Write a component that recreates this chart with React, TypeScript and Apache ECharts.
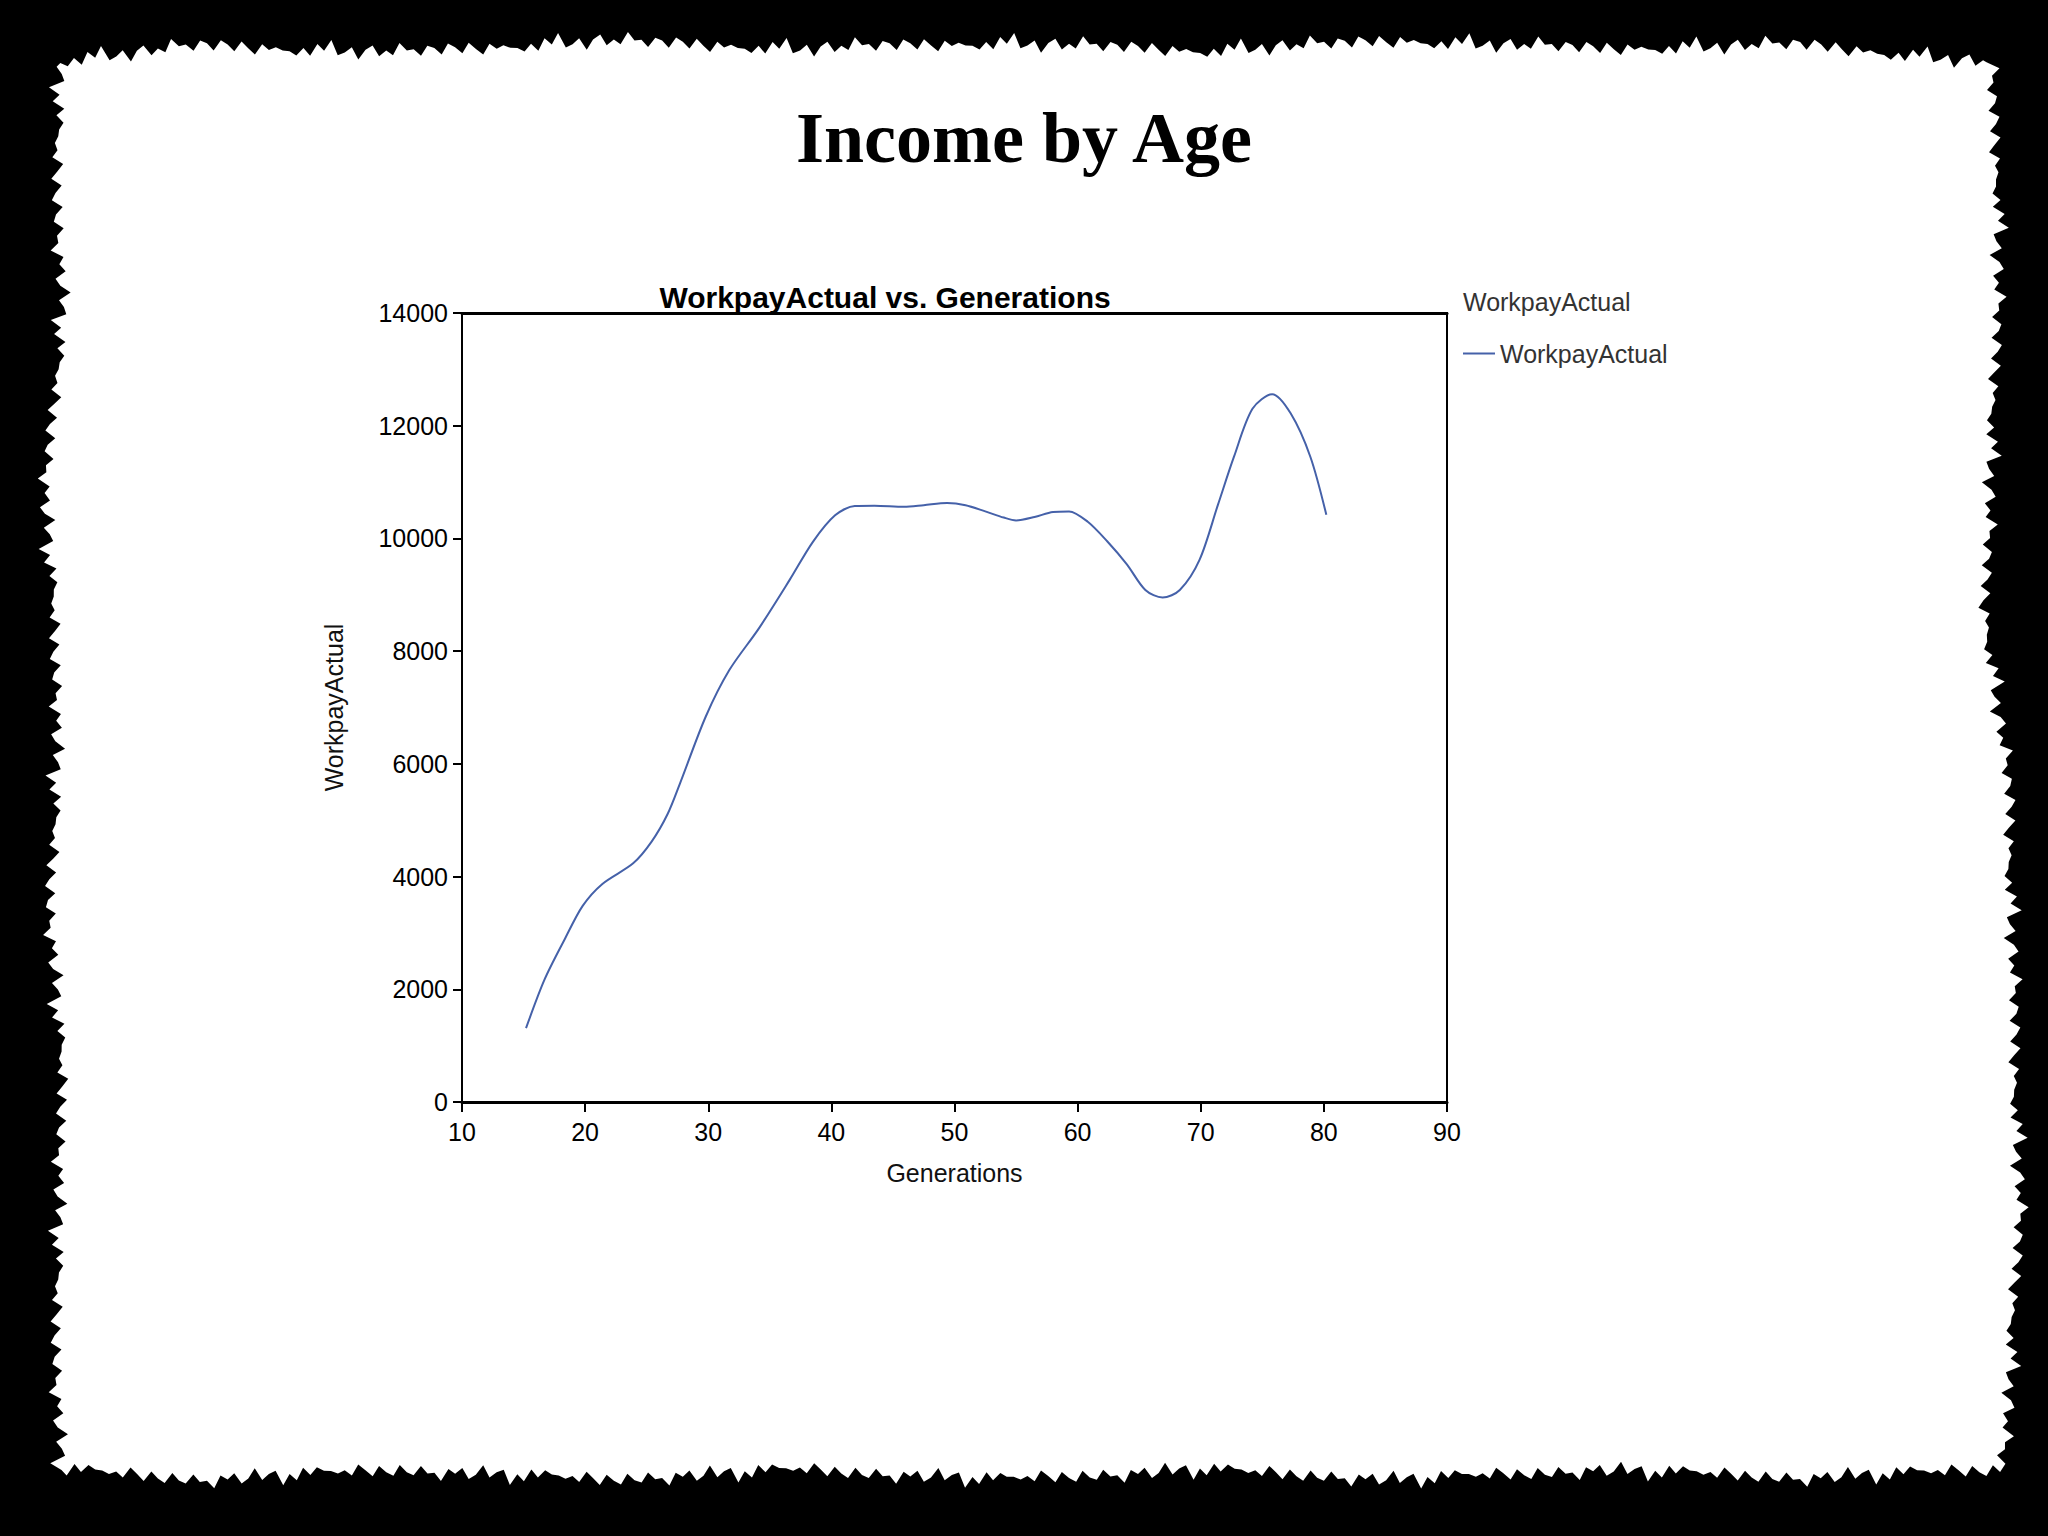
import React, { useEffect, useRef } from "react";
import * as echarts from "echarts";

const mainTitle = "Income by Age";
const chartTitle = "WorkpayActual vs. Generations";
const seriesName = "WorkpayActual";
const xName = "Generations";
const yName = "WorkpayActual";

const ages = [
  15.2, 16.7, 18.3, 19.8, 21.4, 23.9, 25.4, 26.7, 27.7, 29.8, 31.7, 34.1, 36.6, 38.5,
  40.3, 41.9, 43.5, 45.9, 47.5, 49.4, 50.9, 52.5, 54.0, 55.0, 56.5, 58.0, 59.3, 60.8,
  62.4, 64.0, 65.5, 66.9, 68.3, 69.9, 71.4, 72.7, 74.2, 75.8, 77.3, 78.9, 80.2,
];
const workpay = [
  1310, 2170, 2870, 3480, 3870, 4235, 4620, 5110, 5650, 6840, 7660, 8400, 9260, 9940,
  10410, 10575, 10580, 10560, 10590, 10630, 10590, 10480, 10370, 10320, 10380, 10470, 10480, 10300,
  9950, 9540, 9085, 8950, 9085, 9620, 10600, 11450, 12300, 12560, 12220, 11450, 10420,
];

// decorative torn-paper outline (page frame, not data)
const paperAnchors: [number, number][] = [
  [60, 60], [200, 45], [400, 52], [600, 40], [800, 48], [1000, 42], [1200, 50], [1400, 40],
  [1600, 48], [1800, 44], [1990, 62], [2000, 200], [1995, 400], [1985, 600], [2010, 800],
  [2014, 1000], [2020, 1200], [2010, 1400], [2000, 1470], [1800, 1478], [1600, 1470],
  [1400, 1480], [1200, 1470], [1000, 1480], [800, 1470], [600, 1480], [400, 1470],
  [200, 1480], [60, 1470], [55, 1300], [62, 1100], [50, 900], [58, 700], [45, 500],
  [62, 300], [55, 150],
];
const jag = [0, 3, -2, 6, -4, 1, -7, 2, 4, -3, 8, -1, -5, 2, 0, 5, -6, 3, -2, 7, -4, -1, 3, -8, 2, 4, -3, 1, 6, -5, 0, -2, 5];

function jaggedOutline(pts: [number, number][]): number[][] {
  const out: number[][] = [];
  let k = 0;
  for (let i = 0; i < pts.length; i++) {
    const [x0, y0] = pts[i];
    const [x1, y1] = pts[(i + 1) % pts.length];
    const len = Math.hypot(x1 - x0, y1 - y0);
    const steps = Math.max(1, Math.round(len / 7));
    const nx = -(y1 - y0) / len;
    const ny = (x1 - x0) / len;
    for (let s = 0; s < steps; s++) {
      const t = s / steps;
      const d = jag[k % jag.length] + jag[(k * 7 + 3) % jag.length] * 0.5;
      k++;
      out.push([x0 + (x1 - x0) * t + nx * d, y0 + (y1 - y0) * t + ny * d]);
    }
  }
  return out;
}

export default function App() {
  const ref = useRef<HTMLDivElement>(null);
  useEffect(() => {
    document.body.style.margin = "0";
    const chart = echarts.init(ref.current!, null, { renderer: "svg" });
    const sans = "Liberation Sans, Arial, sans-serif";
    chart.setOption({
      animation: false,
      backgroundColor: "#000",
      title: [
        {
          text: mainTitle,
          left: "center",
          top: 102,
          padding: 0,
          textStyle: { fontFamily: "Liberation Serif, serif", fontWeight: "bold", fontSize: 72, color: "#000" },
        },
        {
          text: chartTitle,
          left: 885,
          textAlign: "center",
          top: 282,
          padding: 0,
          textStyle: { fontFamily: sans, fontWeight: "bold", fontSize: 30, color: "#000" },
        },
        {
          text: seriesName,
          left: 1463,
          top: 289,
          padding: 0,
          textStyle: { fontFamily: sans, fontWeight: "normal", fontSize: 25, color: "#333" },
        },
      ],
      legend: {
        data: [seriesName],
        left: 1463,
        top: 341,
        padding: 0,
        icon: "rect",
        itemWidth: 32,
        itemHeight: 2,
        textStyle: { fontFamily: sans, fontSize: 25, color: "#333" },
      },
      graphic: {
        elements: [
          {
            type: "polygon",
            z: -10,
            silent: true,
            shape: { points: jaggedOutline(paperAnchors) },
            style: { fill: "#fff" },
          },
        ],
      },
      grid: {
        left: 462,
        top: 313,
        width: 985,
        height: 789,
        show: true,
        backgroundColor: "#fff",
        borderColor: "#000",
        borderWidth: 2,
      },
      xAxis: [
        {
          type: "value",
          min: 10,
          max: 90,
          interval: 10,
          name: xName,
          nameLocation: "middle",
          nameGap: 58,
          nameTextStyle: { fontFamily: sans, fontSize: 25, color: "#111" },
          axisLine: { show: true, lineStyle: { color: "#000", width: 3 } },
          axisTick: { show: true, length: 10, lineStyle: { color: "#000", width: 2 } },
          axisLabel: { fontFamily: sans, fontSize: 25, color: "#000", margin: 17 },
          splitLine: { show: false },
        },
        {
          type: "value",
          position: "top",
          min: 10,
          max: 90,
          interval: 10,
          axisLine: { show: true, lineStyle: { color: "#000", width: 3 } },
          axisTick: { show: false },
          axisLabel: { show: false },
          splitLine: { show: false },
        },
      ],
      yAxis: {
        type: "value",
        min: 0,
        max: 14000,
        interval: 2000,
        name: yName,
        nameLocation: "middle",
        nameGap: 116,
        nameTextStyle: { fontFamily: sans, fontSize: 25, color: "#111" },
        axisLine: { show: true, lineStyle: { color: "#000", width: 2 } },
        axisTick: { show: true, length: 9, lineStyle: { color: "#000", width: 2 } },
        axisLabel: {
          fontFamily: sans,
          fontSize: 25,
          color: "#000",
          margin: 14,
          formatter: (v: number) => String(v),
        },
        splitLine: { show: false },
      },
      series: [
        {
          name: seriesName,
          type: "line",
          xAxisIndex: 0,
          data: ages.map((a, i) => [a, workpay[i]]),
          showSymbol: false,
          smooth: 0.3,
          lineStyle: { color: "#4561a9", width: 2 },
          itemStyle: { color: "#4561a9" },
        },
      ],
    });
    return () => chart.dispose();
  }, []);
  return <div ref={ref} style={{ width: 2048, height: 1536 }} />;
}
